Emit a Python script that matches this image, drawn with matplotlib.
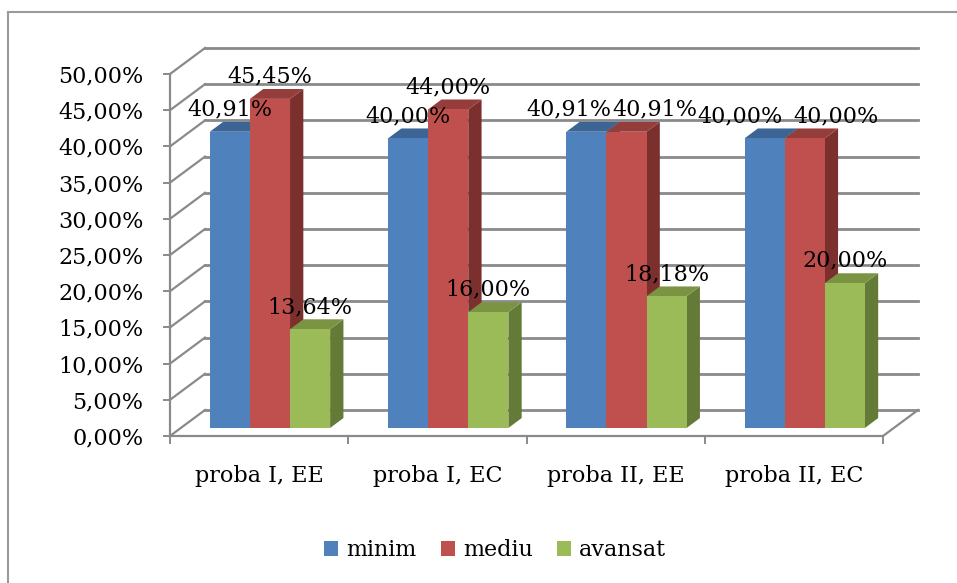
import matplotlib.pyplot as plt
from matplotlib.patches import Polygon, Patch
from matplotlib.lines import Line2D

plt.rcParams['font.family'] = ['DejaVu Serif']

categories = ["proba I, EE", "proba I, EC", "proba II, EE", "proba II, EC"]
series_names = ["minim", "mediu", "avansat"]
minim = [40.91, 40.00, 40.91, 40.00]
mediu = [45.45, 44.00, 40.91, 40.00]
avansat = [13.64, 16.00, 18.18, 20.00]
values = [minim, mediu, avansat]

# front / top / side shades for the 3D boxes
colors = [
    ("#4F81BD", "#3C6595", "#355A86"),
    ("#C0504D", "#943D3B", "#7B302E"),
    ("#9BBB59", "#7A9444", "#647A37"),
]
grid_color = "#8A8A8A"

W, H = 957, 583
fig = plt.figure(figsize=(W / 100, H / 100), dpi=100)

# front plane of the plot area
left, right, bottom, top = 170, 883, 436, 74
ax = fig.add_axes([left / W, 1 - bottom / H, (right - left) / W, (bottom - top) / H])
ax.set_xlim(0, 4)
ax.set_ylim(0, 50)

# depth of the 3D box in data units
DX = 35 * 4 / (right - left)
DY = 26 * 50 / (bottom - top)

def shift(x, y, t):
    return x + t * DX, y + t * DY

# back wall and side wall gridlines
for v in range(0, 55, 5):
    ax.plot([DX, 4 + DX], [v + DY, v + DY], color=grid_color, lw=2, clip_on=False, zorder=1)
    ax.plot([0, DX], [v, v + DY], color=grid_color, lw=1.6, clip_on=False, zorder=1)
ax.plot([4, 4 + DX], [0, DY], color=grid_color, lw=1.6, clip_on=False, zorder=1)

# bars
t0, t1 = 0.31, 0.69
bw = 0.225
pad = (1 - 3 * bw) / 2
label_nudge = {(2, 0): -17, (2, 1): 28, (3, 0): -25, (3, 1): 31}

for ci in range(len(categories)):
    for si, vals in enumerate(values):
        v = vals[ci]
        xl = ci + pad + si * bw
        xr = xl + bw
        front, topc, side = colors[si]
        f = [shift(xl, 0, t0), shift(xr, 0, t0), shift(xr, v, t0), shift(xl, v, t0)]
        tp = [shift(xl, v, t0), shift(xr, v, t0), shift(xr, v, t1), shift(xl, v, t1)]
        sd = [shift(xr, 0, t0), shift(xr, v, t0), shift(xr, v, t1), shift(xr, 0, t1)]
        z = 3 + ci * 0.1 + si * 0.01
        ax.add_patch(Polygon(sd, closed=True, fc=side, ec='none', clip_on=False, zorder=z))
        ax.add_patch(Polygon(tp, closed=True, fc=topc, ec='none', clip_on=False, zorder=z))
        ax.add_patch(Polygon(f, closed=True, fc=front, ec='none', clip_on=False, zorder=z))
        lx, ly = shift((xl + xr) / 2, v, t0)
        nudge = label_nudge.get((ci, si), 0) * 0.72
        ax.annotate(f"{v:.2f}%".replace(".", ","), (lx, ly), xytext=(nudge, 16),
                    textcoords="offset points", ha="center", va="center",
                    fontsize=16, color="black", zorder=10, annotation_clip=False)

# axes styling
for s in ["top", "right"]:
    ax.spines[s].set_visible(False)
for s in ["left", "bottom"]:
    ax.spines[s].set_color(grid_color)
    ax.spines[s].set_linewidth(1.6)

yt = list(range(0, 55, 5))
ax.set_yticks(yt)
ax.set_yticklabels([f"{t:.2f}%".replace(".", ",") for t in yt], fontsize=16)
ax.tick_params(axis="y", length=5, width=1.4, color=grid_color, pad=14)

ax.set_xticks([0.5, 1.5, 2.5, 3.5])
ax.set_xticklabels(categories, fontsize=16)
ax.set_xticks([0, 1, 2, 3, 4], minor=True)
ax.tick_params(axis="x", which="major", length=0, pad=21)
ax.tick_params(axis="x", which="minor", length=6, width=1.4, color=grid_color)
ax.set_facecolor("none")

# legend
handles = [Patch(facecolor=c[0], edgecolor="none") for c in colors]
fig.legend(handles, series_names, loc="center", bbox_to_anchor=(495 / W, 1 - 550 / H),
           ncol=3, frameon=False, fontsize=16, handlelength=0.64, handleheight=0.64,
           handletextpad=0.36, columnspacing=1.1)

# chart area border
fig.add_artist(Line2D([8 / W, 8 / W], [0, 1 - 12 / H], color="#9A9A9A", lw=1.5))
fig.add_artist(Line2D([8 / W, 1], [1 - 12 / H, 1 - 12 / H], color="#9A9A9A", lw=1.5))

fig.savefig("out.png", dpi=100)
